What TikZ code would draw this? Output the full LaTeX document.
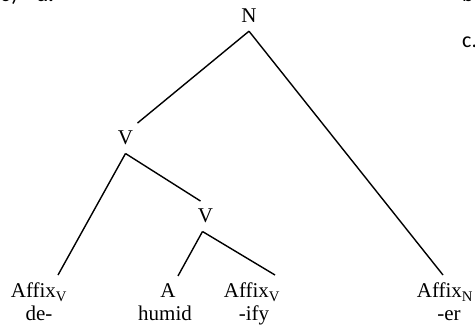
\documentclass[tikz,border=0pt]{standalone}
\usepackage{fontspec}
\setmainfont{Liberation Serif}
\newfontfamily\listfont{Carlito}
\usetikzlibrary{positioning}
\tikzset{
  every picture/.append style={font=\fontsize{21}{25}\selectfont},
  cat/.style={inner sep=8pt,anchor=base},
  word/.style={inner sep=0pt,anchor=base},
  branch/.style={draw=black,line width=1.4pt},
  listlabel/.style={inner sep=0pt,anchor=base west,font=\fontsize{22}{26}\selectfont\listfont},
}

\begin{document}
\begin{tikzpicture}[x=1pt,y=-1pt]
  \clip (0,0) rectangle (475,328);
  % list labels cut off at the page edge
  \node[listlabel] (num) at (0,2) {6)};
  \node[listlabel, font=\fontsize{22}{26}\selectfont\listfont\bfseries] (la) at (37,2) {a.};
  \node[listlabel] (lb) at (462,2) {b};
  \node[listlabel] (lc) at (462,48) {c.};
  % inner nodes
  \node[cat] (N) at (249,23) {N};
  \node[cat] (V1) at (125.5,145) {V};
  \node[cat] (V2) at (205.5,223) {V};
  % leaves
  \node[cat] (aff1) at (39,298) {Affix\textsubscript{V}};
  \node[cat] (A) at (168,298) {A};
  \node[cat] (aff2) at (252,298) {Affix\textsubscript{V}};
  \node[cat] (affN) at (445,298) {Affix\textsubscript{N}};
  \node[word] (de) at (39,321) {de-};
  \node[word] (humid) at (165,321) {humid};
  \node[word] (ify) at (254,321) {-ify};
  \node[word] (er) at (449,321) {-er};
  % branches
  \draw[branch] (N.south) -- ([xshift=12pt]V1.north);
  \draw[branch] (N.south) -- ([xshift=-2pt]affN.north);
  \draw[branch] (V1.south) -- ([xshift=19pt]aff1.north);
  \draw[branch] (V1.south) -- ([xshift=-5pt]V2.north);
  \draw[branch] ([xshift=-3pt]V2.south) -- ([xshift=10pt]A.north);
  \draw[branch] ([xshift=-3pt]V2.south) -- ([xshift=23pt]aff2.north);
\end{tikzpicture}
\end{document}
